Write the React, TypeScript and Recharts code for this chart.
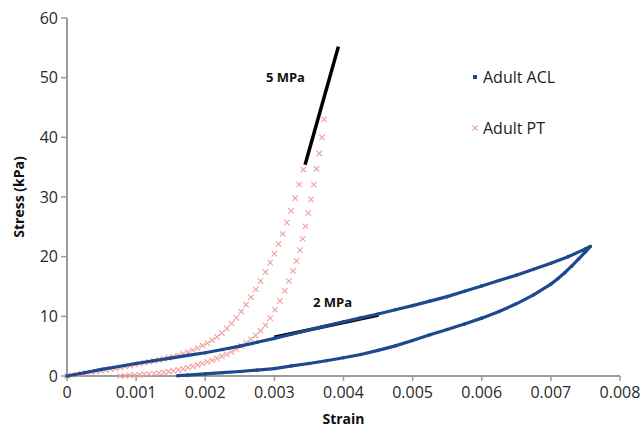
import { ScatterChart, Scatter, XAxis, YAxis, ReferenceLine, ReferenceDot, Legend } from "recharts";

const FONT = '"Open Sans", "DejaVu Sans", sans-serif';
const ACL_BLUE = "#1d4a8e";
const PT_PINK = "#f0a0a0";
const AXIS_GREY = "#9c9c9c";

const strainTicks = [0, 0.001, 0.002, 0.003, 0.004, 0.005, 0.006, 0.007, 0.008];
const stressTicks = [0, 10, 20, 30, 40, 50, 60];

// Adult ACL: loading branch, then unloading branch back down (strain, kPa)
const aclLoading: [number, number][] = [
  [0, 0], [0.00025, 0.55], [0.0005, 1.1], [0.00075, 1.6], [0.001, 2.1], [0.00125, 2.55],
  [0.0015, 3.0], [0.00175, 3.45], [0.002, 3.9], [0.00225, 4.45], [0.0025, 5.0], [0.00275, 5.65],
  [0.003, 6.3], [0.00325, 7.0], [0.0035, 7.7], [0.00375, 8.4], [0.004, 9.1], [0.00425, 9.75],
  [0.0045, 10.4], [0.00475, 11.1], [0.005, 11.8], [0.00525, 12.55], [0.0055, 13.3], [0.00575, 14.2],
  [0.006, 15.1], [0.00625, 16.0], [0.0065, 16.9], [0.00675, 17.9], [0.007, 18.9], [0.00725, 20.0],
  [0.0075, 21.3], [0.00757, 21.7],
];
const aclUnloading: [number, number][] = [
  [0.00757, 21.7], [0.0075, 20.8], [0.0074, 19.6], [0.0073, 18.4], [0.0072, 17.3], [0.0071, 16.3],
  [0.007, 15.4], [0.00675, 13.6], [0.0065, 12.1], [0.00625, 10.8], [0.006, 9.7], [0.00575, 8.7],
  [0.0055, 7.8], [0.00525, 6.9], [0.005, 5.95], [0.00475, 5.05], [0.0045, 4.3], [0.00425, 3.6],
  [0.004, 3.05], [0.00375, 2.55], [0.0035, 2.1], [0.00325, 1.7], [0.003, 1.25], [0.00275, 1.0],
  [0.0025, 0.75], [0.00225, 0.55], [0.002, 0.35], [0.00175, 0.15], [0.0016, 0.05],
];

// Adult PT: loading (left) and unloading (right) branches
const ptLoading: [number, number][] = [
  [0, 0], [0.00007, 0.12], [0.00014, 0.25], [0.00021, 0.37], [0.00028, 0.5], [0.00035, 0.63],
  [0.00042, 0.76], [0.00049, 0.88], [0.00056, 1.01], [0.00063, 1.15], [0.0007, 1.29], [0.00077, 1.44],
  [0.00084, 1.59], [0.00091, 1.74], [0.00098, 1.9], [0.00105, 2.06], [0.00112, 2.22], [0.00119, 2.38],
  [0.00126, 2.54], [0.00133, 2.7], [0.0014, 2.87], [0.00147, 3.05], [0.00154, 3.25], [0.00161, 3.47],
  [0.00168, 3.72], [0.00175, 4.0], [0.00182, 4.32], [0.00189, 4.68], [0.00196, 5.08], [0.00203, 5.52],
  [0.0021, 6.0], [0.00217, 6.55], [0.00224, 7.2], [0.00231, 7.95], [0.00238, 8.8], [0.00245, 9.75],
  [0.00252, 10.8], [0.00259, 11.95], [0.00266, 13.2], [0.00273, 14.5], [0.0028, 15.9], [0.00287, 17.4],
  [0.00294, 19.0], [0.003, 20.5], [0.00306, 22.1], [0.00312, 23.8], [0.00318, 25.7], [0.00324, 27.7],
  [0.0033, 29.8], [0.00336, 32.1], [0.00342, 34.6],
];
const ptUnloading: [number, number][] = [
  [0.00077, 0], [0.00084, 0.04], [0.00091, 0.09], [0.00098, 0.14], [0.00105, 0.2], [0.00112, 0.27],
  [0.00119, 0.34], [0.00126, 0.42], [0.00133, 0.5], [0.0014, 0.6], [0.00147, 0.72], [0.00154, 0.86],
  [0.00161, 1.02], [0.00168, 1.2], [0.00175, 1.4], [0.00182, 1.62], [0.00189, 1.85], [0.00196, 2.1],
  [0.00203, 2.36], [0.0021, 2.64], [0.00217, 2.95], [0.00224, 3.28], [0.00231, 3.64], [0.00238, 4.04],
  [0.00245, 4.5], [0.00252, 5.0], [0.00259, 5.55], [0.00266, 6.15], [0.00273, 6.8], [0.0028, 7.55],
  [0.00287, 8.5], [0.00294, 9.7], [0.00301, 11.1], [0.00308, 12.6], [0.00315, 14.3], [0.00321, 15.9],
  [0.00327, 17.6], [0.00332, 19.3], [0.00337, 21.1], [0.00341, 23.0], [0.00345, 25.1], [0.00349, 27.3],
  [0.00353, 29.6], [0.00357, 32.1], [0.00361, 34.7], [0.00365, 37.3], [0.00369, 40.0], [0.00372, 43.0],
];

// tangent-modulus guide lines and their labels
const line5MPa = [{ x: 0.003444, y: 35.4 }, { x: 0.003926, y: 55.2 }];
const line2MPa = [{ x: 0.003, y: 6.5 }, { x: 0.004505, y: 10.2 }];
const label5MPa = { x: 0.00316, y: 50.1, text: "5 MPa" };
const label2MPa = { x: 0.003842, y: 12.3, text: "2 MPa" };

const toPoints = (rows: [number, number][]) => rows.map(([x, y]) => ({ x, y }));
const aclData = toPoints([...aclLoading, ...aclUnloading]);
const ptData = toPoints([...ptLoading, ...ptUnloading]);

function AclDot({ cx, cy }: { cx?: number; cy?: number }) {
  if (cx == null || cy == null) return <g />;
  return <circle cx={cx} cy={cy} r={1.8} fill={ACL_BLUE} />;
}

function PtMark({ cx, cy }: { cx?: number; cy?: number }) {
  if (cx == null || cy == null) return <g />;
  const s = 2.7;
  return (
    <g stroke={PT_PINK} strokeWidth={1.1}>
      <line x1={cx - s} y1={cy - s} x2={cx + s} y2={cy + s} />
      <line x1={cx - s} y1={cy + s} x2={cx + s} y2={cy - s} />
    </g>
  );
}

function LegendBox() {
  const row = { display: "flex", alignItems: "center", fontSize: 16, color: "#222", fontFamily: FONT };
  return (
    <div>
      <div style={{ ...row, marginBottom: 29 }}>
        <svg width={13} height={10}>
          <rect x={3} y={3} width={4} height={4} fill={ACL_BLUE} />
        </svg>
        <span>Adult ACL</span>
      </div>
      <div style={row}>
        <svg width={13} height={10}>
          <g stroke={PT_PINK} strokeWidth={1.1}>
            <line x1={2.5} y1={2.5} x2={7.5} y2={7.5} />
            <line x1={2.5} y1={7.5} x2={7.5} y2={2.5} />
          </g>
        </svg>
        <span>Adult PT</span>
      </div>
    </div>
  );
}

const fmtStrain = (v: number) => (v === 0 ? "0" : v.toFixed(3));

export default function App() {
  const tick = { fontSize: 16, fill: "#2a2a2a", fontFamily: FONT };
  const bold = { fontSize: 13, fontWeight: 700, fill: "#111", fontFamily: FONT };
  const title = { ...bold, fontSize: 14 };
  return (
    <div style={{ position: "absolute", left: 0, top: 0, width: 642, height: 427, background: "#fff" }}>
      <ScatterChart width={642} height={427} margin={{ top: 18, right: 22, bottom: 0, left: 0 }}>
        <XAxis
          type="number"
          dataKey="x"
          domain={[0, 0.008]}
          ticks={strainTicks}
          tickFormatter={fmtStrain}
          height={51}
          tick={tick}
          tickSize={5}
          tickMargin={6}
          axisLine={{ stroke: AXIS_GREY, strokeWidth: 2 }}
          tickLine={{ stroke: AXIS_GREY, strokeWidth: 1.5 }}
          label={{ value: "Strain", position: "insideBottom", offset: 3, ...title }}
        />
        <YAxis
          type="number"
          dataKey="y"
          domain={[0, 60]}
          ticks={stressTicks}
          width={67}
          tick={tick}
          tickSize={6}
          tickMargin={3}
          axisLine={{ stroke: AXIS_GREY, strokeWidth: 2 }}
          tickLine={{ stroke: AXIS_GREY, strokeWidth: 1.5 }}
          label={{
            value: "Stress (kPa)",
            angle: -90,
            position: "insideLeft",
            offset: 19,
            style: { textAnchor: "middle" },
            ...title,
          }}
        />
        <Legend
          layout="vertical"
          align="center"
          verticalAlign="middle"
          wrapperStyle={{ left: 470, top: 66, width: 130, height: 80 }}
          content={() => <LegendBox />}
        />
        <Scatter
          name="Adult PT"
          data={ptData}
          fill={PT_PINK}
          shape={(p: any) => <PtMark cx={p.cx} cy={p.cy} />}
          isAnimationActive={false}
        />
        <Scatter
          name="Adult ACL"
          data={aclData}
          fill={ACL_BLUE}
          line={{ stroke: ACL_BLUE, strokeWidth: 3.2 }}
          lineType="joint"
          shape={(p: any) => <AclDot cx={p.cx} cy={p.cy} />}
          isAnimationActive={false}
        />
        <ReferenceLine segment={line5MPa} stroke="#000" strokeWidth={3.5} />
        <ReferenceLine segment={line2MPa} stroke="#000" strokeWidth={3.5} />
        <ReferenceDot
          x={label5MPa.x}
          y={label5MPa.y}
          r={0}
          fill="none"
          stroke="none"
          label={{ value: label5MPa.text, position: "center", ...bold }}
        />
        <ReferenceDot
          x={label2MPa.x}
          y={label2MPa.y}
          r={0}
          fill="none"
          stroke="none"
          label={{ value: label2MPa.text, position: "center", ...bold }}
        />
      </ScatterChart>
    </div>
  );
}
